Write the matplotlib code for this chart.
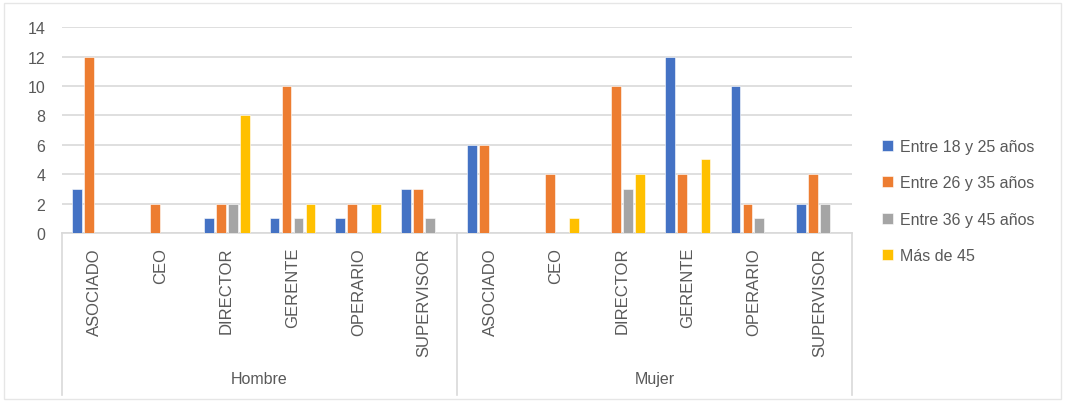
import numpy as np
import matplotlib
matplotlib.use("Agg")
from matplotlib import pyplot as plt
from matplotlib.patches import Rectangle

# data per sex and job title
sexos = ["Hombre", "Mujer"]
cargos = ["ASOCIADO", "CEO", "DIRECTOR", "GERENTE", "OPERARIO", "SUPERVISOR"]
series = ["Entre 18 y 25 años", "Entre 26 y 35 años", "Entre 36 y 45 años", "Más de 45"]

# values in the order Hombre cargos, then Mujer cargos
entre_18_25 = [3, 0, 1, 1, 1, 3, 6, 0, 0, 12, 10, 2]
entre_26_35 = [12, 2, 2, 10, 2, 3, 6, 4, 10, 4, 2, 4]
entre_36_45 = [0, 0, 2, 1, 0, 1, 0, 0, 3, 0, 1, 2]
mas_de_45 = [0, 0, 8, 2, 2, 0, 0, 1, 4, 5, 0, 0]

colores = ["#4472C4", "#ED7D31", "#A5A5A5", "#FFC000"]
texto_gris = "#595959"
linea_gris = "#D9D9D9"

plt.rcParams["font.family"] = ["Liberation Sans", "DejaVu Sans"]

fig = plt.figure(figsize=(10.65, 4.02), dpi=100)
ax = fig.add_axes([0.0582, 0.418, 0.742, 0.512])

valores = [entre_18_25, entre_26_35, entre_36_45, mas_de_45]
n = len(sexos) * len(cargos)
x = np.arange(n) + 0.5
paso = 0.182
ancho = 0.15
for j, (vals, col, nombre) in enumerate(zip(valores, colores, series)):
    ax.bar(x + (j - 1.5) * paso, vals, width=ancho, color=col,
           edgecolor="white", linewidth=0.4, label=nombre, zorder=3)

ax.set_xlim(0, n)
ax.set_ylim(0, 14)
ax.set_yticks(range(0, 15, 2))
ax.yaxis.grid(True, color=linea_gris, linewidth=1.2, zorder=0)
ax.tick_params(axis="y", length=0, labelsize=11.5, labelcolor=texto_gris, pad=12)
ax.set_xticks([])
for s in ["top", "right", "left"]:
    ax.spines[s].set_visible(False)
ax.spines["bottom"].set_color(linea_gris)
ax.spines["bottom"].set_linewidth(1.2)

# two-level category axis below the bars
trans = ax.get_xaxis_transform()
fondo = -0.785
for xv in [0, len(cargos), n]:
    ax.plot([xv, xv], [0, fondo], transform=trans, color=linea_gris,
            linewidth=1.2, clip_on=False)
for i in range(n):
    ax.text(x[i], -0.068, cargos[i % len(cargos)], transform=trans, rotation=90,
            ha="center", va="top", fontsize=12, color=texto_gris)
for k, sexo in enumerate(sexos):
    ax.text(len(cargos) * (k + 0.5), -0.709, sexo, transform=trans,
            ha="center", va="center", fontsize=11.5, color=texto_gris)

ax.legend(loc="center left", bbox_to_anchor=(1.03, 0.155), frameon=False,
          handlelength=0.7, handleheight=0.7, handletextpad=0.4,
          labelspacing=1.35, fontsize=11.5, labelcolor=texto_gris,
          borderaxespad=0)

# faint frame around the chart
fig.patches.append(Rectangle((0.004, 0.006), 0.992, 0.984, transform=fig.transFigure,
                             fill=False, edgecolor="#E6E6E6", linewidth=1))

fig.savefig("out.png", dpi=100)
